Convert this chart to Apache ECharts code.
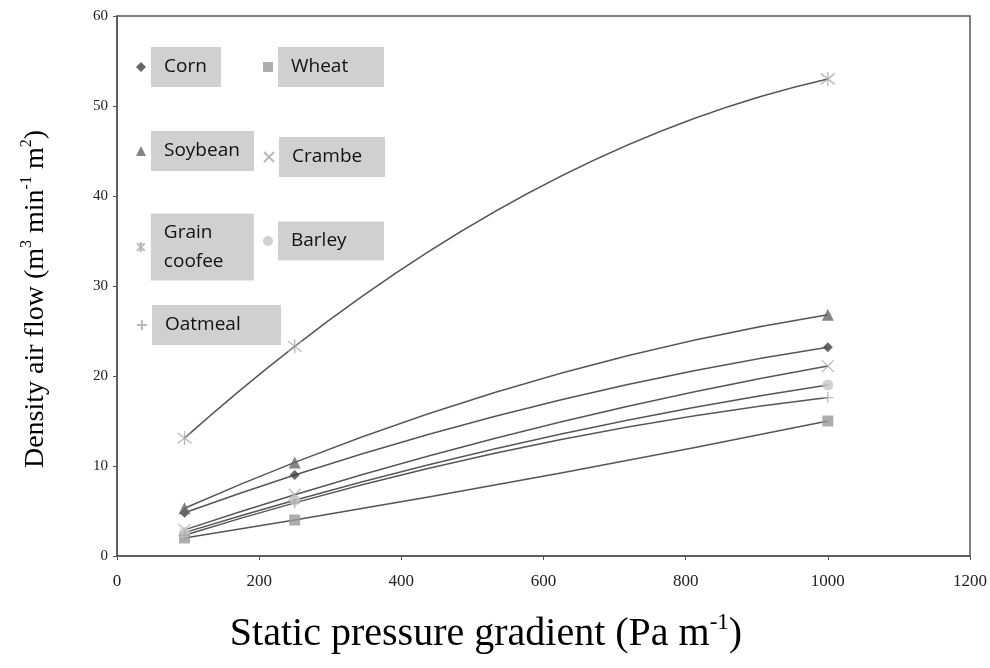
<!DOCTYPE html>
<html>
<head>
<meta charset="utf-8">
<script src="https://cdn.jsdelivr.net/npm/echarts@6/dist/echarts.min.js"></script>
<style>
html,body{margin:0;padding:0;background:#fff;}
#chart{width:990px;height:668px;}
</style>
</head>
<body>
<div id="chart"></div>
<script>
const xValues = [95, 250, 1000];
const corn = [4.8, 9.0, 23.2];
const wheat = [2.0, 4.0, 15.0];
const soybean = [5.3, 10.4, 26.8];
const crambe = [2.9, 6.8, 21.1];
const grainCoffee = [13.1, 23.3, 53.0];
const barley = [2.6, 6.2, 19.0];
const oatmeal = [2.3, 5.9, 17.6];
const seriesNames = ['Corn', 'Wheat', 'Soybean', 'Crambe', 'Grain coofee', 'Barley', 'Oatmeal'];
const xTicks = [0, 200, 400, 600, 800, 1000, 1200];
const yTicks = [0, 10, 20, 30, 40, 50, 60];

const X_PATH = 'path://M0,0L10,10M10,0L0,10';
const STAR_PATH = 'path://M0,0L10,10M10,0L0,10M5,-1.5L5,11.5';
const PLUS_PATH = 'path://M5,0L5,10M0,5L10,5';

const styles = {
  'Corn': {symbol: 'diamond', size: 10, item: {color: '#404040'}},
  'Wheat': {symbol: 'rect', size: 11, item: {color: '#999999'}},
  'Soybean': {symbol: 'triangle', size: 12, item: {color: '#666666'}},
  'Crambe': {symbol: X_PATH, size: 12, item: {color: 'rgba(0,0,0,0)', borderColor: '#a8a8a8', borderWidth: 1.3}},
  'Grain coofee': {symbol: STAR_PATH, size: 14, item: {color: 'rgba(0,0,0,0)', borderColor: '#a8a8a8', borderWidth: 1.3}},
  'Barley': {symbol: 'circle', size: 11, item: {color: '#c6c6c6'}},
  'Oatmeal': {symbol: PLUS_PATH, size: 11, item: {color: 'rgba(0,0,0,0)', borderColor: '#a8a8a8', borderWidth: 1.3}}
};
const values = {
  'Corn': corn, 'Wheat': wheat, 'Soybean': soybean, 'Crambe': crambe,
  'Grain coofee': grainCoffee, 'Barley': barley, 'Oatmeal': oatmeal
};

// second-order trendline through the three measured points, drawn in pixel space
function makeCurve(vals) {
  return function (params, api) {
    const pts = xValues.map(function (x, i) { return api.coord([x, vals[i]]); });
    const X = pts.map(function (p) { return p[0]; });
    const Y = pts.map(function (p) { return p[1]; });
    function deriv(x) {
      return Y[0] * (2 * x - X[1] - X[2]) / ((X[0] - X[1]) * (X[0] - X[2])) +
             Y[1] * (2 * x - X[0] - X[2]) / ((X[1] - X[0]) * (X[1] - X[2])) +
             Y[2] * (2 * x - X[0] - X[1]) / ((X[2] - X[0]) * (X[2] - X[1]));
    }
    let d = 'M' + X[0] + ',' + Y[0];
    for (let i = 0; i < 2; i++) {
      const xm = (X[i] + X[i + 1]) / 2;
      const ym = Y[i] + deriv(X[i]) * (X[i + 1] - X[i]) / 2;
      d += ' Q' + xm + ',' + ym + ' ' + X[i + 1] + ',' + Y[i + 1];
    }
    return {type: 'path', shape: {pathData: d}, style: {stroke: '#555555', lineWidth: 1.5, fill: 'none'}};
  };
}

const series = [];
seriesNames.forEach(function (n) {
  series.push({
    name: n + ' trend',
    type: 'custom',
    silent: true,
    data: [[xValues[0], values[n][0]]],
    renderItem: makeCurve(values[n]),
    z: 2
  });
});
seriesNames.forEach(function (n) {
  const s = styles[n];
  series.push({
    name: n,
    type: 'scatter',
    data: xValues.map(function (x, i) { return [x, values[n][i]]; }),
    symbol: s.symbol,
    symbolSize: s.size,
    itemStyle: s.item,
    z: 3
  });
});

// legend boxes: [name, iconCenterX, iconCenterY, boxWidth, boxHeight, lineHeight]
const legendLayout = [
  ['Corn', 141, 67, 70, 40, 24],
  ['Wheat', 268, 67, 106, 40, 24],
  ['Soybean', 141, 151, 103, 40, 24],
  ['Crambe', 268, 157, 106, 40, 24],
  ['Grain coofee', 141, 247, 103, 67, 29],
  ['Barley', 268, 241, 106, 39, 24],
  ['Oatmeal', 141, 325, 129, 40, 24]
];
const legends = legendLayout.map(function (l) {
  const iconW = 10;
  const nLines = l[0] === 'Grain coofee' ? 2 : 1;
  const vpad = (l[4] - nLines * l[5]) / 2;
  return {
    data: [l[0]],
    left: l[1] - iconW / 2,
    top: l[2] - l[4] / 2,
    itemWidth: iconW,
    itemHeight: 10,
    padding: 0,
    selectedMode: false,
    formatter: function (name) { return name === 'Grain coofee' ? 'Grain\ncoofee' : name; },
    textStyle: {
      fontFamily: 'Open Sans',
      fontSize: 19,
      color: '#111',
      backgroundColor: '#d0d0d0',
      width: l[3] - 13,
      lineHeight: l[5],
      padding: [vpad, 0, vpad, 13]
    }
  };
});

const chart = echarts.init(document.getElementById('chart'));
chart.setOption({
  backgroundColor: '#ffffff',
  animation: false,
  grid: {left: 117, right: 18, top: 16, bottom: 112, show: true, borderColor: '#555', borderWidth: 1.5},
  legend: legends,
  xAxis: {
    type: 'value', min: xTicks[0], max: xTicks[xTicks.length - 1], interval: 200,
    axisLine: {lineStyle: {color: '#555', width: 1.5}},
    axisTick: {show: true, length: 4, lineStyle: {color: '#555'}},
    splitLine: {show: false},
    axisLabel: {fontFamily: 'Liberation Serif', fontSize: 17, color: '#222', margin: 17,
      formatter: function (v) { return String(v); }}
  },
  yAxis: {
    type: 'value', min: yTicks[0], max: yTicks[yTicks.length - 1], interval: 10,
    axisLine: {show: true, lineStyle: {color: '#555', width: 1.5}},
    axisTick: {show: true, length: 4, lineStyle: {color: '#555'}},
    splitLine: {show: false},
    axisLabel: {fontFamily: 'Liberation Serif', fontSize: 15, color: '#222', margin: 9}
  },
  graphic: [
    {
      type: 'text', x: 486, y: 634, z: 10,
      style: {
        text: '{a|Static pressure gradient (Pa m}{s|-1}{a|)}',
        textAlign: 'center', textVerticalAlign: 'middle',
        rich: {
          a: {fontFamily: 'Liberation Serif', fontSize: 40, color: '#111', lineHeight: 46},
          s: {fontFamily: 'Liberation Serif', fontSize: 23, color: '#111', verticalAlign: 'top', lineHeight: 30}
        }
      }
    },
    {
      type: 'text', x: 36, y: 299, rotation: Math.PI / 2, z: 10,
      style: {
        text: '{a|Density air flow (m}{s|3}{a| min}{s|-1}{a| m}{s|2}{a|)}',
        textAlign: 'center', textVerticalAlign: 'middle',
        rich: {
          a: {fontFamily: 'Liberation Serif', fontSize: 28, color: '#111', lineHeight: 34},
          s: {fontFamily: 'Liberation Serif', fontSize: 16, color: '#111', verticalAlign: 'top', lineHeight: 22}
        }
      }
    }
  ],
  series: series
});
</script>
</body>
</html>
